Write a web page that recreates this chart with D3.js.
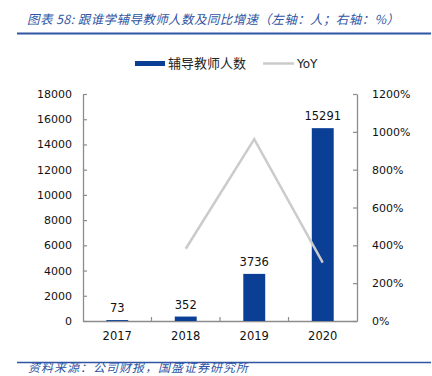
<!DOCTYPE html>
<html>
<head>
<meta charset="utf-8">
<script src="https://cdn.jsdelivr.net/npm/d3@7"></script>
<style>
  body { margin: 0; background: #fff; }
  svg { display: block; }
</style>
</head>
<body>
<div id="chart"></div>
<script>
// data
const years = ["2017", "2018", "2019", "2020"];
const teachers = [73, 352, 3736, 15291];
const yoy = [null, 382, 961, 309];
const leftTicks = [0, 2000, 4000, 6000, 8000, 10000, 12000, 14000, 16000, 18000];
const rightTicks = [0, 200, 400, 600, 800, 1000, 1200];

const W = 432, H = 376;
const margin = { top: 94, right: 75, bottom: 55, left: 83 };
const width = W - margin.left - margin.right;
const height = H - margin.top - margin.bottom;

const barColor = "#0b3f95";
const lineColor = "#cbcbcb";
const axisColor = "#8c8c8c";
const blue = "#2f55a4";
const numFont = "'DejaVu Sans', sans-serif";
const cjkFont = "'Noto Sans CJK SC', sans-serif";

const svg = d3.select("#chart")
  .append("svg")
  .attr("width", W)
  .attr("height", H);

// title + rule
svg.append("text")
  .attr("x", 27)
  .attr("y", 24)
  .attr("textLength", 372)
  .attr("lengthAdjust", "spacing")
  .style("font-family", cjkFont)
  .style("font-size", "12.5px")
  .style("font-style", "italic")
  .style("fill", blue)
  .text("图表 58:  跟谁学辅导教师人数及同比增速（左轴：人；右轴：%）");

svg.append("line")
  .attr("x1", 17).attr("x2", 431)
  .attr("y1", 33.5).attr("y2", 33.5)
  .style("stroke", blue)
  .style("stroke-width", 2);

// source + rule
svg.append("line")
  .attr("x1", 17).attr("x2", 431)
  .attr("y1", 362.5).attr("y2", 362.5)
  .style("stroke", blue)
  .style("stroke-width", 1.5);

svg.append("text")
  .attr("x", 28)
  .attr("y", 372)
  .attr("textLength", 220)
  .attr("lengthAdjust", "spacing")
  .style("font-family", cjkFont)
  .style("font-size", "12px")
  .style("font-style", "italic")
  .style("fill", blue)
  .text("资料来源：公司财报，国盛证券研究所");

// legend
const legend = svg.append("g");
legend.append("rect")
  .attr("x", 135).attr("y", 61)
  .attr("width", 30).attr("height", 5)
  .style("fill", barColor);
legend.append("text")
  .attr("x", 168).attr("y", 68)
  .style("font-family", cjkFont)
  .style("font-size", "13px")
  .style("fill", "#222")
  .text("辅导教师人数");
legend.append("line")
  .attr("x1", 263).attr("x2", 294)
  .attr("y1", 63.5).attr("y2", 63.5)
  .style("stroke", lineColor)
  .style("stroke-width", 2.5);
legend.append("text")
  .attr("x", 297).attr("y", 68)
  .style("font-family", numFont)
  .style("font-size", "12px")
  .style("fill", "#222")
  .text("YoY");

const g = svg.append("g")
  .attr("transform", `translate(${margin.left}, ${margin.top})`);

const x = d3.scaleBand()
  .domain(years)
  .range([0, width])
  .paddingInner(0.68)
  .paddingOuter(0.34);

const yLeft = d3.scaleLinear().domain([0, 18000]).range([height, 0]);
const yRight = d3.scaleLinear().domain([0, 1200]).range([height, 0]);

// left axis
const leftAxis = g.append("g")
  .call(d3.axisLeft(yLeft).tickValues(leftTicks).tickFormat(d3.format("d"))
    .tickSize(-4).tickSizeOuter(0).tickPadding(11));

// right axis
const rightAxis = g.append("g")
  .attr("transform", `translate(${width}, 0)`)
  .call(d3.axisRight(yRight).tickValues(rightTicks).tickSize(-4).tickSizeOuter(0).tickPadding(15)
    .tickFormat(d => d + "%"));

// bottom axis (labels only, ticks between categories added below)
const bottomAxis = g.append("g")
  .attr("transform", `translate(0, ${height})`)
  .call(d3.axisBottom(x).tickSize(0).tickPadding(11));

[leftAxis, rightAxis, bottomAxis].forEach(a => {
  a.select(".domain").style("stroke", axisColor).style("stroke-width", 1.3);
  a.selectAll(".tick line").style("stroke", axisColor).style("stroke-width", 1.2);
  a.selectAll("text")
    .style("font-family", numFont)
    .style("font-size", "11px")
    .style("fill", "#111");
});
bottomAxis.selectAll("text").style("font-size", "11.5px");

// category separators on the x axis
g.append("g")
  .selectAll("line")
  .data(years.slice(0, -1))
  .join("line")
  .attr("x1", d => x(d) + x.bandwidth() / 2 + x.step() / 2)
  .attr("x2", d => x(d) + x.bandwidth() / 2 + x.step() / 2)
  .attr("y1", height)
  .attr("y2", height - 4)
  .style("stroke", axisColor)
  .style("stroke-width", 1.2);

// bars
const barData = years.map((yr, i) => ({ year: yr, value: teachers[i], yoy: yoy[i] }));

g.selectAll(".bar")
  .data(barData)
  .join("rect")
  .attr("class", "bar")
  .attr("x", d => x(d.year))
  .attr("y", d => yLeft(d.value))
  .attr("width", x.bandwidth())
  .attr("height", d => height - yLeft(d.value))
  .style("fill", barColor);

g.selectAll(".bar-label")
  .data(barData)
  .join("text")
  .attr("class", "bar-label")
  .attr("x", d => x(d.year) + x.bandwidth() / 2)
  .attr("y", d => yLeft(d.value) - 8)
  .attr("text-anchor", "middle")
  .style("font-family", numFont)
  .style("font-size", "11.5px")
  .style("fill", "#111")
  .text(d => d.value);

// YoY line
const line = d3.line()
  .defined(d => d.yoy != null)
  .x(d => x(d.year) + x.bandwidth() / 2)
  .y(d => yRight(d.yoy));

g.append("path")
  .datum(barData)
  .attr("d", line)
  .style("fill", "none")
  .style("stroke", lineColor)
  .style("stroke-width", 2.5);
</script>
</body>
</html>
